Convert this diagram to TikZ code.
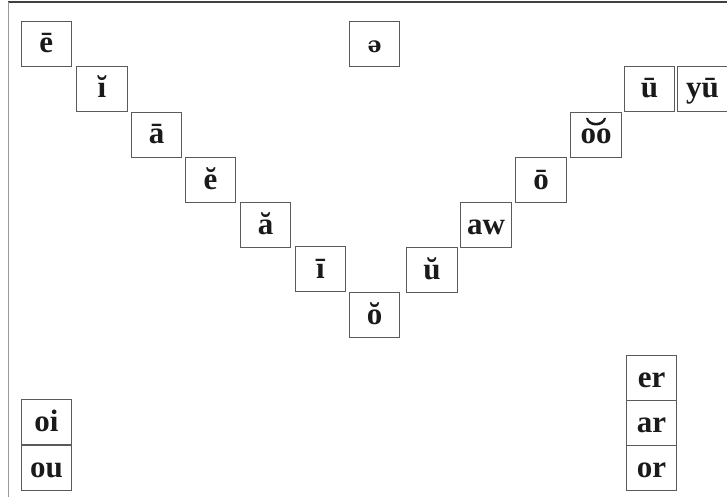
\documentclass[tikz,border=0pt]{standalone}
\usepackage{fontspec}
\setmainfont{Liberation Serif}
\newfontfamily\schwafont{DejaVu Serif}
\definecolor{boxline}{HTML}{5A5A5A}
\definecolor{txt}{HTML}{1A1A1A}
\tikzset{
  vbox/.style={draw=boxline, line width=0.9pt, minimum width=50.5pt, minimum height=45pt,
    inner sep=0pt, text height=32pt, text depth=13pt, text=txt,
    font=\fontsize{31}{32}\selectfont\bfseries},
  framelinetop/.style={draw=black!75, line width=1.6pt},
  framelineleft/.style={draw=black!40, line width=1pt}
}
\begin{document}
\begin{tikzpicture}[x=1pt,y=-1pt]
\useasboundingbox (0,0) rectangle (727,497);
\fill[white] (0,0) rectangle (727,497);
\coordinate (fTL) at (8,2);
\coordinate (fTR) at (727,2);
\coordinate (fBL) at (8,497);
\draw[framelinetop] (fTL) -- (fTR);
\draw[framelineleft] (fTL) -- (fBL);

\node[vbox] (e1) at (46.3,43.5) {ē};
\node[vbox] (i1) at (102,88.5) {ĭ};
\node[vbox] (a1) at (156.5,134.5) {ā};
\node[vbox] (e2) at (210.5,179.5) {ĕ};
\node[vbox] (a2) at (265.5,224.5) {ă};
\node[vbox] (i2) at (320.5,269) {ī};
\node[vbox] (o1) at (374.5,314.5) {ŏ};
\node[vbox] (u1) at (432,269.5) {ŭ};
\node[vbox] (aw) at (486,224.5) {aw};
\node[vbox] (o2) at (541,179.5) {ō};
\node[vbox] (oo) at (596,134.5) {oo};
\fill[txt] ([shift={(-10,-16.5)}]oo.center) .. controls ([shift={(-9,-6.5)}]oo.center) and ([shift={(9,-6.5)}]oo.center) .. ([shift={(10,-16.5)}]oo.center)
  -- ([shift={(8,-16.5)}]oo.center) .. controls ([shift={(6,-10)}]oo.center) and ([shift={(-6,-10)}]oo.center) .. ([shift={(-8,-16.5)}]oo.center) -- cycle;
\node[vbox] (u2) at (649.5,88.5) {ū};
\node[vbox] (yu) at (702.5,88.5) {yū};
\node[vbox, font=\fontsize{22}{23}\selectfont\bfseries\schwafont] (schwa) at (374.5,43.5) {ə};
\node[vbox] (oi) at (46.5,421.5) {oi};
\node[vbox] (ou) at (46.5,467.5) {ou};
\node[vbox] (er) at (651.5,377.5) {er};
\node[vbox] (ar) at (651.5,422.5) {ar};
\node[vbox] (or) at (651.5,467.5) {or};
\end{tikzpicture}
\end{document}
